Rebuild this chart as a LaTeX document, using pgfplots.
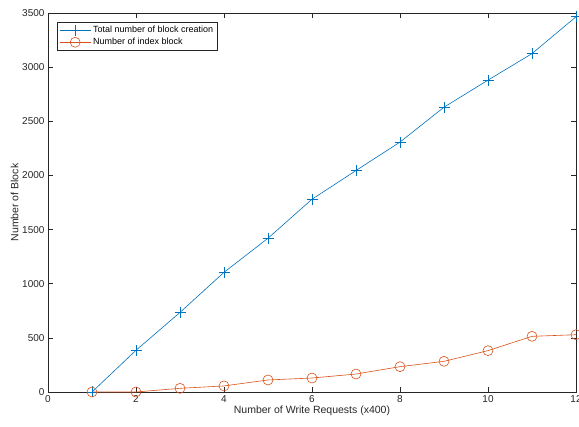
\documentclass[border=0pt]{standalone}
\usepackage{fontspec}
\setmainfont{Liberation Sans}
\usepackage{pgfplots}
\pgfplotsset{compat=1.18}
\definecolor{mblue}{rgb}{0,0.447,0.741}
\definecolor{morange}{rgb}{0.85,0.325,0.098}
\definecolor{axgray}{rgb}{0.15,0.15,0.15}
\begin{document}
\fontsize{10}{12}\selectfont
\begin{tikzpicture}
\begin{axis}[
  name=ax,
  scale only axis,
  width=528pt, height=379pt,
  xmin=0, xmax=12, ymin=0, ymax=3500,
  xtick={0,2,...,12}, ytick={0,500,...,3500},
  tick align=inside,
  major tick length=5pt,
  axis line style={axgray, line width=0.5pt},
  every tick/.style={axgray, line width=0.5pt},
  tick label style={font=\fontsize{10}{12}\selectfont, text=axgray},
  /pgf/number format/assume math mode=true,
  /pgf/number format/1000 sep={},
  xlabel={Number of Write Requests (x400)},
  ylabel={Number of Block},
  label style={font=\fontsize{10.5}{12}\selectfont, text=axgray},
  xlabel style={yshift=4pt},
  ylabel style={yshift=-3pt},
  legend style={at={(rel axis cs:0,1)}, anchor=north west, xshift=9pt, yshift=-9pt,
    font=\fontsize{9}{11}\selectfont, draw=axgray, line width=0.5pt,
    inner xsep=2pt, inner ysep=2pt, row sep=0pt},
  legend cell align=left,
  legend image code/.code={
    \draw[mark repeat=2,mark phase=2,#1] plot coordinates {(0cm,0cm) (0.55cm,0cm) (1.1cm,0cm)};
  },
  clip=false,
]
\addplot[mblue, line width=0.6pt, mark=+, mark size=5.5pt] coordinates {
(1,0) (2,385) (3,735) (4,1105) (5,1420) (6,1780) (7,2045) (8,2308) (9,2630) (10,2880) (11,3125) (12,3465)};
\addlegendentry{Total number of block creation}
\addplot[morange, line width=0.6pt, mark=o, mark size=5pt] coordinates {
(1,0) (2,0) (3,34) (4,56) (5,111) (6,129) (7,166) (8,234) (9,283) (10,382) (11,514) (12,529)};
\addlegendentry{Number of index block}
\end{axis}
\pgfresetboundingbox
\path ([xshift=-48pt,yshift=13pt]ax.north west) rectangle ([xshift=3pt,yshift=-35pt]ax.south east);
\end{tikzpicture}
\end{document}
